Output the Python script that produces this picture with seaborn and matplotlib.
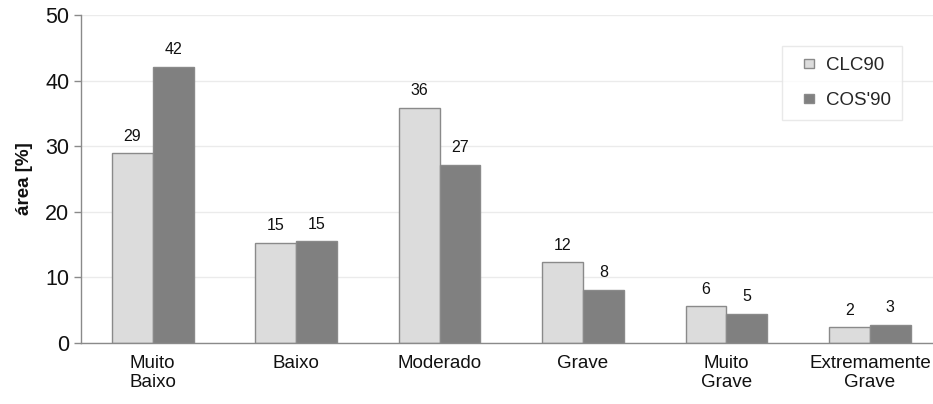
import pandas as pd
import seaborn as sns
import matplotlib.pyplot as plt
from matplotlib.patches import Rectangle
from matplotlib.legend_handler import HandlerPatch

categories = ['Muito\nBaixo', 'Baixo', 'Moderado', 'Grave', 'Muito\nGrave', 'Extremamente\nGrave']
clc90 = [28.9, 15.3, 35.8, 12.3, 5.6, 2.4]
cos90 = [42.1, 15.5, 27.2, 8.1, 4.4, 2.8]
clc90_labels = ['29', '15', '36', '12', '6', '2']
cos90_labels = ['42', '15', '27', '8', '5', '3']
series = ['CLC90', "COS'90"]

df = pd.DataFrame({
    'Classe': categories * 2,
    'Serie': [series[0]] * len(categories) + [series[1]] * len(categories),
    'Area': clc90 + cos90,
})

sns.set_style('white')
plt.rcParams['font.family'] = ['Liberation Sans', 'DejaVu Sans']

fig = plt.figure(figsize=(9.33, 4.04), dpi=100)
ax = fig.add_axes([0.0868, 0.151, 0.9132, 0.812])

sns.barplot(data=df, x='Classe', y='Area', hue='Serie', order=categories,
            hue_order=series, palette=['#dcdcdc', '#808080'], width=0.57,
            edgecolor='#8a8a8a', linewidth=1.0, saturation=1, ax=ax)

for cont, labs in zip(ax.containers, [clc90_labels, cos90_labels]):
    ax.bar_label(cont, labels=labs, padding=7, fontsize=11.5, color='#111111')

ax.set_ylim(0, 50)
ax.set_yticks(range(0, 51, 10))
ax.set_xlim(-0.5, 5.44)
ax.yaxis.grid(True, color='#ebebeb', linewidth=1)
ax.set_axisbelow(True)

ax.set_xticks([i - 0.5 for i in range(6)], minor=True)
ax.tick_params(axis='x', which='major', length=0, pad=9, labelsize=13.5, labelcolor='#111111')
ax.tick_params(axis='x', which='minor', length=5, width=1, color='#8a8a8a')
ax.tick_params(axis='y', length=5, width=1, color='#8a8a8a', labelsize=15.5,
               labelcolor='#111111', left=True)
for lab in ax.get_xticklabels():
    lab.set_linespacing(1.1)

for s in ['top', 'right']:
    ax.spines[s].set_visible(False)
for s in ['left', 'bottom']:
    ax.spines[s].set_color('#8a8a8a')
    ax.spines[s].set_linewidth(1)

ax.set_xlabel('')
ax.set_ylabel('área [%]', fontsize=13.5, fontweight='bold', labelpad=9, color='#111111')


# small square marker sitting at the right end of a wider handle box
def square_patch(legend, orig_handle, xdescent, ydescent, width, height, fontsize):
    s = 6.6
    return Rectangle((width - s - xdescent, -ydescent + (height - s) / 2), s, s)


handles, labels = ax.get_legend_handles_labels()
leg = ax.legend(handles, labels, loc='upper left', bbox_to_anchor=(0.823, 0.905),
                borderaxespad=0, fontsize=13.5, frameon=True, handlelength=1.07,
                handleheight=0.6, handletextpad=0.64, labelspacing=0.95,
                borderpad=0.6, fancybox=False,
                handler_map={h: HandlerPatch(patch_func=square_patch) for h in handles})
leg.get_frame().set_edgecolor('#e4e4e4')
leg.get_frame().set_linewidth(1)

fig.savefig('out.png', dpi=100)
